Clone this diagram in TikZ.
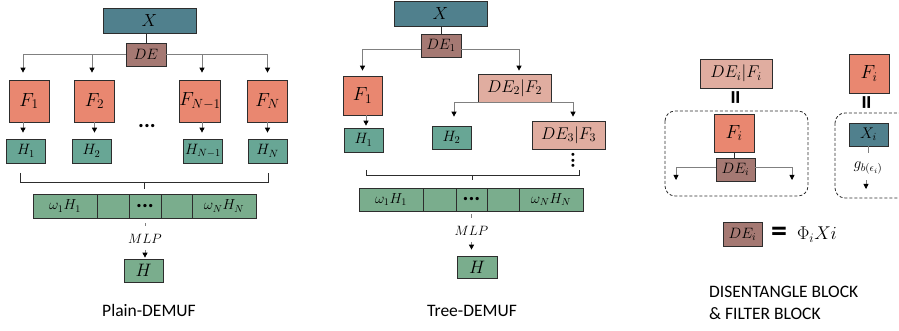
\RequirePackage{fix-cm}
\documentclass[tikz,border=0pt]{standalone}
\usepackage[no-math]{fontspec}
\newfontfamily\lab{Carlito}
\usetikzlibrary{arrows.meta}
\definecolor{cX}{RGB}{80,128,141}
\definecolor{cDE}{RGB}{165,121,115}
\definecolor{cF}{RGB}{233,135,112}
\definecolor{cDF}{RGB}{224,173,160}
\definecolor{cH}{RGB}{104,166,149}
\definecolor{cR}{RGB}{122,173,141}
\definecolor{bd}{RGB}{45,45,45}
\definecolor{cl}{RGB}{128,128,128}
\begin{document}
\begin{tikzpicture}[x=1pt,y=-1pt,
  bx/.style={draw=bd, line width=0.7pt, inner sep=0pt},
  xb/.style={bx, fill=cX, minimum width=93, minimum height=25, font=\fontsize{17.5}{17.5}\selectfont},
  deb/.style={bx, fill=cDE, minimum width=40, minimum height=23, font=\fontsize{15}{15}\selectfont},
  fb/.style={bx, fill=cF, minimum width=40, minimum height=42, font=\fontsize{19}{19}\selectfont},
  hb/.style={bx, fill=cH, minimum width=39, minimum height=24, font=\fontsize{15}{15}\selectfont},
  dfb/.style={bx, fill=cDF, minimum width=73, minimum height=28, font=\fontsize{17}{17}\selectfont},
  cell/.style={bx, fill=cR, minimum height=24, font=\fontsize{14.5}{14.5}\selectfont},
  hf/.style={bx, fill=cR, minimum width=39, minimum height=23, font=\fontsize{18}{18}\selectfont},
  lbl/.style={inner sep=1pt, font=\fontsize{13.5}{13.5}\selectfont},
  dots/.style={inner sep=0pt, font=\lab\bfseries\fontsize{22}{22}\selectfont},
  conn/.style={draw=cl, line width=0.8pt},
  dark/.style={draw=bd, line width=0.8pt},
  arr/.style={conn, -{Triangle[length=5pt,width=5pt,color=black]}},
  brace/.style={draw=bd, line width=0.8pt},
  dbox/.style={draw=bd, line width=0.8pt, dash pattern=on 3pt off 2pt, rounded corners=10pt},
  eqv/.style={rotate=90, inner sep=0pt, font=\lab\bfseries\fontsize{28}{28}\selectfont},
  eqb/.style={inner sep=0pt, font=\lab\bfseries\fontsize{32}{32}\selectfont},
  title/.style={inner sep=0pt, font=\lab\fontsize{17.5}{22}\selectfont}]
\useasboundingbox (0,0) rectangle (899,331);
\clip (0,0) rectangle (899,331);

% ---------------- Plain-DEMUF ----------------
\node[xb] (pX) at (149.5,20.5) {$X$};
\node[deb] (pDE) at (146,54.5) {$DE$};
\draw[dark] (pDE.north) -- (pDE.north |- pX.south);
\node[fb] (pF1) at (29,101) {$F_1$};
\node[fb] (pF2) at (94.5,101) {$F_2$};
\node[fb] (pF3) at (200,101) {$F_{N-1}$};
\node[fb] (pF4) at (267.5,101) {$F_N$};
\draw[arr, shorten >=7] (pDE.west) -| ([xshift=-6]pF1.north);
\draw[arr, shorten >=7] (pDE.west) -| ([xshift=-2.5]pF2.north);
\draw[arr, shorten >=7] (pDE.east) -| ([xshift=2]pF3.north);
\draw[arr, shorten >=7] (pDE.east) -| (pF4.north);
\node[dots] (pdots) at (147,126) {...};
\node[hb] (pH1) at (26,151) {$H_1$};
\node[hb] (pH2) at (91.5,151) {$H_2$};
\node[hb] (pH3) at (203,151) {$H_{N-1}$};
\node[hb] (pH4) at (267.5,151) {$H_N$};
\draw[arr, shorten >=6] ([xshift=-6]pF1.south) -- ([xshift=-6]pF1.south |- pH1.north);
\draw[arr, shorten >=6] (pF2.south) -- (pF2.south |- pH2.north);
\draw[arr, shorten >=6] ([xshift=2]pF3.south) -- ([xshift=2]pF3.south |- pH3.north);
\draw[arr, shorten >=6] (pF4.south) -- (pF4.south |- pH4.north);
\draw[brace] (20,173) -- (20,182) -- (268,182) -- (268,173);
\draw[brace] (144,182) -- (144,189);
\node[cell, minimum width=64] (pc1) at (65,206) {$\omega_1H_1$};
\node[cell, minimum width=32] (pc2) at (113,206) {};
\node[cell, minimum width=32] (pc3) at (145,206) {};
\node[dots] at (145,206) {...};
\node[cell, minimum width=31] (pc4) at (176.5,206) {};
\node[cell, minimum width=64] (pc5) at (224,206) {$\omega_NH_N$};
\node[lbl] (pm) at (145,239) {$MLP$};
\draw[conn, shorten <=5, shorten >=7] (pc3.south) -- (pm.north);
\node[hf] (pH) at (143.5,270.5) {$H$};
\draw[arr, shorten <=5, shorten >=1] (pm.south) -- (pm.south |- pH.north);
\node[title, anchor=base] at (149,316) {Plain-DEMUF};

% ---------------- Tree-DEMUF ----------------
\node[xb] (tX) at (440.5,13.5) {$X$};
\node[deb] (tDE) at (441,45.5) {$DE_1$};
\draw[dark] (tDE.north) -- (tDE.north |- tX.south);
\node[fb, minimum width=39, minimum height=39] (tF1) at (362.5,95.5) {$F_1$};
\node[dfb] (tD2) at (514.5,88) {$DE_2|F_2$};
\draw[arr, shorten >=5] ([yshift=-3.5]tDE.west) -| (tF1.north);
\draw[arr, shorten >=3] ([yshift=-3.5]tDE.east) -| ([xshift=4.5]tD2.north);
\node[hb] (tH1) at (363.5,140) {$H_1$};
\draw[arr, shorten >=2] ([xshift=3.5]tF1.south) -- ([xshift=3.5]tF1.south |- tH1.north);
\node[hb, minimum height=23] (tH2) at (451.5,137.5) {$H_2$};
\node[dfb] (tD3) at (568.5,135) {$DE_3|F_3$};
\draw[arr, shorten >=9] (tD2.south) -| ([xshift=2.5]tH2.north);
\draw[arr, shorten >=4] (tD2.south) -| ([xshift=4.5]tD3.north);
\node[dots, rotate=90, font=\lab\bfseries\fontsize{20}{20}\selectfont] (tvd) at (573,160.5) {...};
\draw[brace] (366,170) -- (366,175) -- (579,175) -- (579,170);
\draw[brace] (472,175) -- (472,180);
\node[cell, minimum width=64, minimum height=23] (tc1) at (391,199.5) {$\omega_1H_1$};
\node[cell, minimum width=33, minimum height=23] (tc2) at (439.5,199.5) {};
\node[cell, minimum width=31, minimum height=23] (tc3) at (471.5,199.5) {};
\node[dots] at (471.5,199.5) {...};
\node[cell, minimum width=32, minimum height=23] (tc4) at (503,199.5) {};
\node[cell, minimum width=64, minimum height=23] (tc5) at (551,199.5) {$\omega_NH_N$};
\node[lbl] (tm) at (471.5,231) {$MLP$};
\draw[conn, shorten <=3, shorten >=7] (tc3.south) -- (tm.north);
\node[hf, minimum width=40, minimum height=22] (tH) at (477,267) {$H$};
\draw[arr, shorten <=5, shorten >=6] (tm.south) -- (tm.south |- tH.north);
\node[title, anchor=base] at (472,316) {Tree-DEMUF};

% ---------------- Disentangle / filter blocks ----------------
\node[dfb, minimum width=72, minimum height=29] (rDF) at (736,73.5) {$DE_i|F_i$};
\node[eqv] (req1) at (738,98) {=};
\draw[dbox] (665,111) rectangle (808,196);
\node[fb, minimum width=40, minimum height=38] (rF) at (734,133) {$F_i$};
\node[deb, minimum width=39] (rDE) at (735.5,169.5) {$DE_i$};
\draw[dark] (rF.south) -- (rF.south |- rDE.north);
\coordinate (rl) at (676,180);
\coordinate (rr) at (792,180);
\draw[arr] ([yshift=2.5]rDE.west) -| (rl);
\draw[arr] ([yshift=2.5]rDE.east) -| (rr);

\node[fb, minimum width=40, minimum height=39] (rF2) at (869,73.5) {$F_i$};
\node[eqv] (req2) at (869,103) {=};
\draw[dbox] (835,113) rectangle (915,198);
\node[xb, minimum width=39, minimum height=23, font=\fontsize{15.5}{15.5}\selectfont] (rX) at (868.5,134.5) {$X_i$};
\node[lbl, font=\fontsize{15.5}{15.5}\selectfont] (rg) at (868,168) {$g_{b(\epsilon_i)}$};
\draw[conn, shorten >=8] (rX.south) -- (rX.south |- rg.north);
\coordinate (rge) at (866,189);
\draw[arr, shorten <=5] (rg.south -| rge) -- (rge);

\node[deb, minimum width=39, minimum height=24] (bDE) at (742.5,234) {$DE_i$};
\node[eqb] (beq) at (779,234) {=};
\node[inner sep=0pt, font=\fontsize{18.5}{18.5}\selectfont] (bphi) at (817,235) {$\Phi_iXi$};
\node[title, anchor=north west, align=left] at (709,286) {DISENTANGLE BLOCK\\\& FILTER BLOCK};
\end{tikzpicture}
\end{document}
